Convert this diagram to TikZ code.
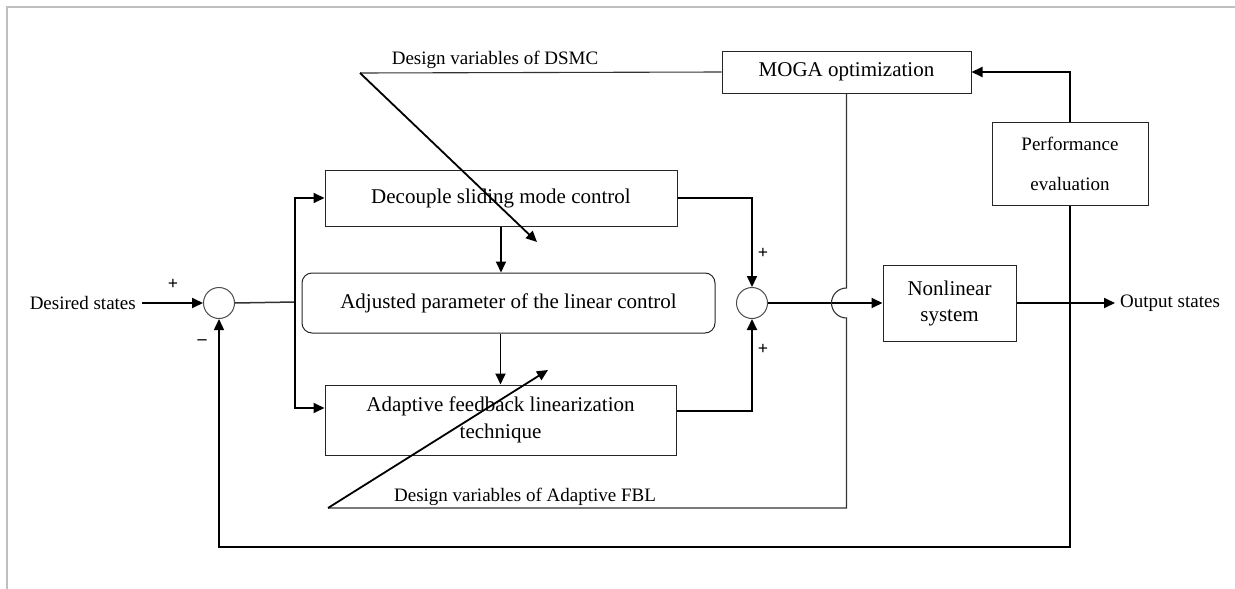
\documentclass[tikz,border=0pt]{standalone}
\usepackage{fontspec}
\setmainfont{Liberation Serif}
\usetikzlibrary{arrows.meta}

\begin{document}
\begin{tikzpicture}[x=1pt,y=-1pt,
  blk/.style={draw=black!85,line width=1pt,rectangle,align=center,inner sep=0pt,font=\fontsize{21}{26}\selectfont},
  sumnode/.style={draw=black!70,line width=1pt,circle,minimum size=31pt,inner sep=0pt},
  lbl/.style={font=\fontsize{19}{23}\selectfont,inner sep=2pt},
  sgn/.style={font=\fontsize{18}{18}\selectfont\bfseries,inner sep=0pt},
  sig/.style={line width=1.8pt,-{Triangle[length=11pt,width=10pt]}},
  wire/.style={line width=1.1pt,draw=black!80}]
\useasboundingbox (0,0) rectangle (1235,589);
\draw[black!25,line width=1.5pt] (7,589) -- (7,7) -- (1235,7);

\node[lbl,anchor=east,inner xsep=6pt] (desired) at (142,303) {Desired states};
\node[sumnode] (sum1) at (219,303) {};
\node[blk,minimum width=352pt,minimum height=56pt] (dsmc) at (501,198) {Decouple sliding mode control};
\node[blk,rounded corners=10pt,minimum width=413pt,minimum height=60pt] (adj) at (508.5,303) {Adjusted parameter of the linear control};
\node[blk,minimum width=351pt,minimum height=70pt,font=\fontsize{21}{27}\selectfont] (afbl) at (500.5,420) {Adaptive feedback linearization\\technique};
\node[sumnode] (sum2) at (752,303) {};
\node[blk,minimum width=133pt,minimum height=76pt] (plant) at (949.5,303) {Nonlinear\\system};
\node[blk,minimum width=249pt,minimum height=42pt] (moga) at (846.5,72) {MOGA optimization};
\node[blk,minimum width=156pt,minimum height=83pt,font=\fontsize{19}{40}\selectfont] (perf) at (1070,163.5) {Performance\\evaluation};
\node[lbl,anchor=west,inner sep=5pt] (output) at (1115,303) {Output states};

\node[sgn] (s1) at (173,284) {+};
\node[sgn] (s2) at (202,342) {--};
\node[sgn] (s3) at (763,253) {+};
\node[sgn] (s4) at (763,349) {+};

\coordinate (br) at (295,302);
\coordinate (dsmcfoot) at (360,73);
\coordinate (dsmctip) at (537,242);
\coordinate (fblfoot) at (328,508);
\coordinate (fbltip) at (548,370);
\coordinate (fbk) at (0,547);
\coordinate (jump) at (846.5,288);

\draw[sig] (desired) -- (sum1);
\draw[wire,line width=1.5pt] (sum1.east) -- (br);
\draw[sig] (br) |- (dsmc.west);
\draw[sig] (br) |- ([yshift=12pt]afbl.west);
\draw[sig] (dsmc.south) -- (dsmc.south |- adj.north);
\draw[sig] (afbl.north |- adj.south) -- (afbl.north);
\draw[sig] (dsmc.east) -| (sum2.north);
\draw[sig] ([yshift=9pt]afbl.east) -| (sum2.south);
\draw[sig] (sum2.east) -- (plant.west);
\draw[sig] (plant.east) -- (output.west);

\draw[wire] (moga.south) -- (jump) arc[start angle=90,end angle=270,radius=15pt] -- (moga.south |- fblfoot) -- (fblfoot);
\draw[sig] (fblfoot) -- (fbltip);
\node[lbl,anchor=south] (fbllbl) at (525,508) {Design variables of Adaptive FBL};
\draw[wire] (moga.west) -- (dsmcfoot);
\draw[sig] (dsmcfoot) -- (dsmctip);
\node[lbl,anchor=south] (dsmclbl) at (495,71) {Design variables of DSMC};

\draw[sig] (perf.north) |- (moga.east);
\draw[sig,line width=1.4pt] (perf.south) -- (perf.south |- fbk) -| (sum1.south);

\end{tikzpicture}
\end{document}
